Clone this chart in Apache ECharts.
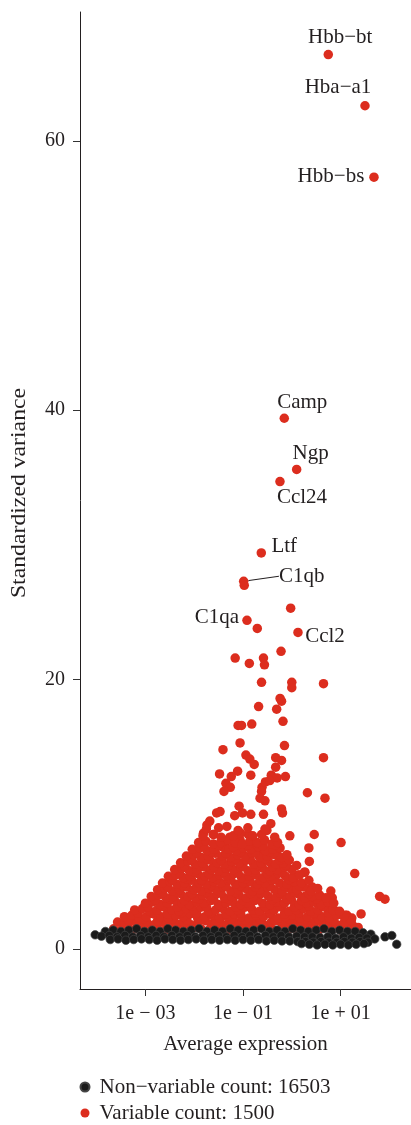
<!DOCTYPE html>
<html><head><meta charset="utf-8">
<script src="https://cdn.jsdelivr.net/npm/echarts@6/dist/echarts.min.js"></script>
<style>html,body{margin:0;padding:0;background:#fff}#chart{width:411px;height:1125px}</style>
</head><body><div id="chart"></div>
<script>
// ---- data (x stored as log10 of average expression, y = standardized variance) ----
const nonVariableName = 'Non\u2212variable count: 16503';
const variableName = 'Variable count: 1500';
const xTickValues = [1e-3, 1e-1, 1e1];
const xTickLabels = ['1e \u2212 03', '1e \u2212 01', '1e + 01'];
const yTickValues = [0, 20, 40, 60];

const labeledGenes = ['Hbb\u2212bt', 'Hba\u2212a1', 'Hbb\u2212bs', 'Camp', 'Ngp', 'Ccl24', 'Ltf', 'C1qb', 'C1qa', 'Ccl2'];
const labeledLog10Expr = [0.748, 1.5, 1.684, -0.154, 0.1, -0.242, -0.625, -0.986, -0.918, 0.127];
const labeledStdVar = [66.4, 62.6, 57.3, 39.4, 35.6, 34.7, 29.4, 27.3, 24.4, 23.5];

const variableGenes = [
[-0.707,23.8],[-0.023,25.3],[-0.974,27.0],
[-1.16,21.6],[-0.87,21.2],[-0.58,21.6],[-0.56,21.1],[-0.22,22.1],
[-0.62,19.8],[0.0,19.8],[0.0,19.4],[0.65,19.7],[-0.24,18.6],[-0.21,18.4],[-0.68,18.0],[-0.31,17.8],[-0.18,16.9],[-1.1,16.6],[-1.03,16.6],[-0.82,16.7],[-1.06,15.3],[-0.15,15.1],[-1.41,14.8],[0.65,14.2],[-0.94,14.4],[-0.86,14.1],[-0.77,13.7],[-0.33,14.2],[-0.21,14.0],[-0.33,13.5],[-1.11,13.2],[-0.84,12.9],[-1.48,13.0],[-1.24,12.8],[-0.42,12.9],[-0.3,12.7],[-0.13,12.8],[-1.35,12.3],[-1.26,12.0],[-1.39,11.7],[-0.61,12.0],[-0.54,12.4],[-0.45,12.5],[-0.62,11.7],[0.32,11.6],[0.68,11.2],[-0.65,11.2],[-0.55,11.0],[-1.08,10.6],[-0.21,10.4],[-0.19,10.1],[-1.54,10.1],[-1.47,10.2],[-1.17,9.9],[-1.01,10.1],[-0.84,10.0],[-0.58,10.0],[-0.43,9.3],[-1.68,9.5],[-1.74,9.2],[-1.33,9.1],[-0.51,8.8],[-0.04,8.4],[0.46,8.5],[1.01,7.9],[0.35,7.5],[0.36,6.5],[1.29,5.6],[1.8,3.9],[1.91,3.7],[1.42,2.6],[0.1,6.2],[0.27,5.7],[-0.1,6.1],[0.8,4.3],[0.83,3.8],[0.42,4.6],[0.61,3.8],[0.91,2.8],[1.26,1.7],[1.13,2.5],[1.23,2.3],
[-0.89,8.5],[-0.82,7.85],[-0.62,7.35],[-0.41,7.6],[-0.31,7.1],[0.13,5.5],[0.26,5.7],[0.41,4.5],[1.09,2.5],[1.36,1.6],[0.54,3.3],[0.68,3.2],[0.37,2.9],[0.27,3.9],[0.07,4.6],[-0.07,5.1],
[-1.81,8.6],[-1.61,8.5],[-1.27,8.3],[-1.06,8.1],[-1.37,7.7],[-1.01,7.5],
[-3.65,1.5],[-3.5,1.4],[-3.36,1.6],[-3.2,1.5],[-3.05,1.7],[-2.9,1.5],[-2.76,1.6],[-2.6,1.4],[-2.46,1.6],[-2.3,1.5],[-2.15,1.4],[-2.0,1.6],[-1.86,1.5],[-1.7,1.4],[-1.56,1.6],[-1.4,1.5],[-1.25,1.4],[-1.1,1.6],[-0.96,1.5],[-0.8,1.4],[-0.65,1.6],[-0.5,1.5],[-0.35,1.4],[-0.2,1.6],[-0.05,1.5],[0.1,1.4],[0.25,1.6],[0.4,1.5],[0.55,1.4],[0.7,1.6],[0.85,1.5],[1.0,1.4],[1.15,1.6],[1.3,1.5],
[-3.45,1.7],[-3.15,1.75],[-2.85,1.7],[-2.55,1.75],[-2.25,1.7],[-1.95,1.75],[-1.65,1.7],[-1.35,1.75],[-1.05,1.7],[-0.75,1.75],[-0.45,1.7],[-0.15,1.75],[0.15,1.7],[0.45,1.75],[0.75,1.7],[1.05,1.75],
[-3.57,2.0],[-3.42,1.9],[-3.27,2.1],[-3.12,1.9],[-2.97,2.0],[-2.82,1.8],[-2.67,2.0],[-2.52,2.1],[-2.37,1.9],[-2.22,2.0],[-2.07,1.8],[-1.92,2.0],[-1.77,2.1],[-1.62,1.9],[-1.47,2.0],[-1.32,1.8],[-1.17,2.0],[-1.02,2.1],[-0.87,1.9],[-0.72,2.0],[-0.57,1.8],[-0.42,2.0],[-0.27,2.1],[-0.12,1.9],[0.03,2.0],[0.18,1.8],[0.33,2.0],[0.48,2.1],[0.63,1.9],[0.78,2.0],[0.93,1.8],[1.08,2.0],[1.22,2.1],
[-3.35,2.15],[-3.05,2.2],[-2.75,2.1],[-2.45,2.2],[-2.15,2.15],[-1.85,2.2],[-1.55,2.1],[-1.25,2.2],[-0.95,2.15],[-0.65,2.2],[-0.35,2.1],[-0.05,2.2],[0.25,2.15],[0.55,2.2],[0.85,2.1],
[-3.43,2.4],[-3.28,2.5],[-3.13,2.3],[-2.98,2.4],[-2.83,2.6],[-2.68,2.4],[-2.53,2.3],[-2.38,2.5],[-2.23,2.4],[-2.08,2.6],[-1.93,2.3],[-1.78,2.4],[-1.63,2.5],[-1.48,2.3],[-1.33,2.4],[-1.18,2.6],[-1.03,2.4],[-0.88,2.3],[-0.73,2.5],[-0.58,2.4],[-0.43,2.6],[-0.28,2.3],[-0.13,2.4],[0.02,2.5],[0.17,2.3],[0.32,2.4],[0.47,2.6],[0.62,2.4],[0.77,2.3],[0.92,2.5],[1.07,2.4],
[-3.15,2.65],[-2.85,2.7],[-2.55,2.6],[-2.25,2.7],[-1.95,2.65],[-1.65,2.7],[-1.35,2.6],[-1.05,2.7],[-0.75,2.65],[-0.45,2.7],[-0.15,2.6],[0.15,2.7],[0.45,2.65],[0.75,2.7],
[-3.22,2.9],[-3.06,3.0],[-2.91,2.8],[-2.76,2.9],[-2.61,3.1],[-2.46,2.9],[-2.31,2.8],[-2.16,3.0],[-2.01,2.9],[-1.86,3.1],[-1.71,2.8],[-1.56,2.9],[-1.41,3.0],[-1.26,2.8],[-1.11,2.9],[-0.96,3.1],[-0.81,2.9],[-0.66,2.8],[-0.51,3.0],[-0.36,2.9],[-0.21,3.1],[-0.06,2.8],[0.09,2.9],[0.24,3.0],[0.39,2.8],[0.54,2.9],[0.69,3.1],[0.84,2.9],[0.98,2.8],
[-2.95,3.15],[-2.65,3.2],[-2.35,3.1],[-2.05,3.2],[-1.75,3.15],[-1.45,3.2],[-1.15,3.1],[-0.85,3.2],[-0.55,3.15],[-0.25,3.2],[0.05,3.1],[0.35,3.2],[0.65,3.15],
[-3.0,3.4],[-2.85,3.5],[-2.7,3.3],[-2.55,3.4],[-2.4,3.6],[-2.25,3.4],[-2.1,3.3],[-1.95,3.5],[-1.8,3.4],[-1.65,3.6],[-1.5,3.3],[-1.35,3.4],[-1.2,3.5],[-1.05,3.3],[-0.9,3.4],[-0.75,3.6],[-0.6,3.4],[-0.45,3.3],[-0.3,3.5],[-0.15,3.4],[0.0,3.6],[0.15,3.3],[0.3,3.4],[0.45,3.5],[0.6,3.3],[0.74,3.5],[0.86,3.4],
[-2.8,3.65],[-2.5,3.7],[-2.2,3.6],[-1.9,3.7],[-1.6,3.65],[-1.3,3.7],[-1.0,3.6],[-0.7,3.7],[-0.4,3.65],[-0.1,3.7],[0.2,3.6],[0.5,3.7],
[-2.88,3.9],[-2.73,4.0],[-2.58,3.8],[-2.43,3.9],[-2.28,4.1],[-2.13,3.9],[-1.98,3.8],[-1.83,4.0],[-1.68,3.9],[-1.53,4.1],[-1.38,3.8],[-1.23,3.9],[-1.08,4.0],[-0.93,3.8],[-0.78,3.9],[-0.63,4.1],[-0.48,3.9],[-0.33,3.8],[-0.18,4.0],[-0.03,3.9],[0.12,4.1],[0.27,3.8],[0.42,3.9],[0.57,4.0],[0.7,3.8],
[-2.65,4.15],[-2.35,4.2],[-2.05,4.1],[-1.75,4.2],[-1.45,4.15],[-1.15,4.2],[-0.85,4.1],[-0.55,4.2],[-0.25,4.15],[0.05,4.2],[0.35,4.1],
[-2.75,4.4],[-2.6,4.5],[-2.45,4.3],[-2.3,4.4],[-2.15,4.6],[-2.0,4.4],[-1.85,4.3],[-1.7,4.5],[-1.55,4.4],[-1.4,4.6],[-1.25,4.3],[-1.1,4.4],[-0.95,4.5],[-0.8,4.3],[-0.65,4.4],[-0.5,4.6],[-0.35,4.4],[-0.2,4.3],[-0.05,4.5],[0.1,4.4],[0.25,4.6],[0.4,4.3],[0.53,4.5],
[-2.55,4.65],[-2.25,4.7],[-1.95,4.6],[-1.65,4.7],[-1.35,4.65],[-1.05,4.7],[-0.75,4.6],[-0.45,4.7],[-0.15,4.65],[0.15,4.7],
[-2.65,4.9],[-2.5,5.0],[-2.35,4.8],[-2.2,4.9],[-2.05,5.1],[-1.9,4.9],[-1.75,4.8],[-1.6,5.0],[-1.45,4.9],[-1.3,5.1],[-1.15,4.8],[-1.0,4.9],[-0.85,5.0],[-0.7,4.8],[-0.55,4.9],[-0.4,5.1],[-0.25,4.9],[-0.1,4.8],[0.05,5.0],[0.2,4.9],[0.35,5.1],
[-2.45,5.15],[-2.15,5.2],[-1.85,5.1],[-1.55,5.2],[-1.25,5.15],[-0.95,5.2],[-0.65,5.1],[-0.35,5.2],[-0.05,5.15],
[-2.53,5.4],[-2.38,5.5],[-2.23,5.3],[-2.08,5.4],[-1.93,5.6],[-1.78,5.4],[-1.63,5.3],[-1.48,5.5],[-1.33,5.4],[-1.18,5.6],[-1.03,5.3],[-0.88,5.4],[-0.73,5.5],[-0.58,5.3],[-0.43,5.4],[-0.28,5.6],[-0.13,5.4],[0.02,5.3],[0.16,5.5],
[-2.3,5.65],[-2.0,5.7],[-1.7,5.6],[-1.4,5.7],[-1.1,5.65],[-0.8,5.7],[-0.5,5.6],[-0.2,5.7],
[-2.4,5.9],[-2.25,6.0],[-2.1,5.8],[-1.95,5.9],[-1.8,6.1],[-1.65,5.9],[-1.5,5.8],[-1.35,6.0],[-1.2,5.9],[-1.05,6.1],[-0.9,5.8],[-0.75,5.9],[-0.6,6.0],[-0.45,5.8],[-0.3,5.9],[-0.15,6.1],[0.0,5.9],
[-2.2,6.15],[-1.9,6.2],[-1.6,6.1],[-1.3,6.2],[-1.0,6.15],[-0.7,6.2],[-0.4,6.1],[-0.12,6.2],
[-2.28,6.4],[-2.13,6.5],[-1.98,6.3],[-1.83,6.4],[-1.68,6.6],[-1.53,6.4],[-1.38,6.3],[-1.23,6.5],[-1.08,6.4],[-0.93,6.6],[-0.78,6.3],[-0.63,6.4],[-0.48,6.5],[-0.33,6.3],[-0.18,6.4],[-0.05,6.6],
[-2.05,6.65],[-1.75,6.7],[-1.45,6.6],[-1.15,6.7],[-0.85,6.65],[-0.55,6.7],[-0.25,6.6],
[-2.16,6.9],[-2.01,7.0],[-1.86,6.8],[-1.71,6.9],[-1.56,7.1],[-1.41,6.9],[-1.26,6.8],[-1.11,7.0],[-0.96,6.9],[-0.81,7.1],[-0.66,6.8],[-0.51,6.9],[-0.36,7.0],[-0.21,6.8],[-0.1,7.0],
[-1.95,7.15],[-1.65,7.2],[-1.35,7.1],[-1.05,7.2],[-0.75,7.15],[-0.45,7.2],
[-2.04,7.4],[-1.89,7.5],[-1.74,7.3],[-1.59,7.4],[-1.44,7.6],[-1.29,7.4],[-1.14,7.3],[-0.99,7.5],[-0.84,7.4],[-0.69,7.6],[-0.54,7.3],[-0.39,7.4],[-0.24,7.5],
[-1.8,7.65],[-1.5,7.7],[-1.2,7.6],[-0.9,7.7],[-0.6,7.65],[-0.35,7.7],
[-1.91,7.9],[-1.76,8.0],[-1.61,7.8],[-1.46,7.9],[-1.31,8.1],[-1.16,7.9],[-1.01,7.8],[-0.86,8.0],[-0.71,7.9],[-0.56,8.1],[-0.41,7.8],[-0.29,7.9],
[-1.82,8.4],[-1.6,8.5],[-1.45,8.3],[-1.2,8.4],[-1.05,8.6],[-0.8,8.4],[-0.62,8.5],[-0.35,8.3],
[-1.75,8.9],[-1.5,9.0],[-1.1,8.8],[-0.9,9.0],[-0.55,8.9]
];

const nonVariableGenes = [
[-4.03,1.05],
[-3.82,1.3],[-3.66,1.4],[-3.5,1.3],[-3.34,1.4],[-3.18,1.5],[-3.02,1.3],[-2.86,1.4],[-2.7,1.3],[-2.54,1.5],[-2.38,1.4],[-2.22,1.3],[-2.06,1.4],[-1.9,1.5],[-1.74,1.3],[-1.58,1.4],[-1.42,1.3],[-1.26,1.5],[-1.1,1.4],[-0.94,1.3],[-0.78,1.4],[-0.62,1.5],[-0.46,1.3],[-0.3,1.4],[-0.14,1.3],[0.02,1.5],[0.18,1.4],[0.34,1.3],[0.5,1.4],[0.66,1.5],[0.82,1.3],[0.98,1.4],[1.14,1.3],[1.3,1.3],[1.46,1.2],[1.62,1.1],
[-3.9,0.95],[-3.74,1.0],[-3.58,0.9],[-3.42,1.0],[-3.26,0.9],[-3.1,1.0],[-2.94,0.9],[-2.78,1.0],[-2.62,0.9],[-2.46,1.0],[-2.3,0.9],[-2.14,1.0],[-1.98,0.9],[-1.82,1.0],[-1.66,0.9],[-1.5,1.0],[-1.34,0.9],[-1.18,1.0],[-1.02,0.9],[-0.86,1.0],[-0.7,0.9],[-0.54,1.0],[-0.38,0.9],[-0.22,1.0],[-0.06,0.9],[0.1,0.95],[0.26,0.9],[0.42,0.9],[0.58,0.85],[0.74,0.9],[0.9,0.8],[1.06,0.9],[1.22,0.8],[1.38,0.85],[1.54,0.8],[1.7,0.75],
[1.91,0.9],[2.05,1.0],[2.15,0.35],
[-3.72,0.7],[-3.56,0.75],[-3.4,0.65],[-3.24,0.7],[-3.08,0.75],[-2.92,0.7],[-2.76,0.65],[-2.6,0.75],[-2.44,0.7],[-2.28,0.65],[-2.12,0.7],[-1.96,0.75],[-1.8,0.65],[-1.64,0.7],[-1.48,0.65],[-1.32,0.7],[-1.16,0.65],[-1.0,0.7],[-0.84,0.65],[-0.68,0.7],[-0.52,0.6],[-0.36,0.65],[-0.2,0.6],[-0.04,0.6],[0.12,0.55],[0.28,0.55],[0.44,0.5],[0.6,0.55],[0.76,0.5],[0.92,0.5],[1.08,0.55],[1.24,0.5],[1.4,0.55],[1.56,0.5],
[0.2,0.4],[0.36,0.35],[0.52,0.3],[0.68,0.35],[0.84,0.3],[1.0,0.35],[1.16,0.3],[1.32,0.35],[1.48,0.4]
];

// ---- label placement (pixel offsets from the point) ----
const labelOffsets = {
  'Hbb\u2212bt': [12, -17], 'Hba\u2212a1': [-27, -18], 'Hbb\u2212bs': [-43, -1],
  'Camp': [18, -16], 'Ngp': [14, -16], 'Ccl24': [22, 16], 'Ltf': [23, -6],
  'C1qb': [58, -5], 'C1qa': [-30, -3], 'Ccl2': [27, 4]
};

const FONT = "'Liberation Serif', 'DejaVu Serif', serif";
const INK = '#231f20';
const RED = '#dc2d1e';

const redData = [];
const redNames = [];
labeledGenes.forEach((g, i) => {
  redNames.push(g);
  redData.push({
    value: [Math.pow(10, labeledLog10Expr[i]), labeledStdVar[i]],
    name: g,
    label: { show: true, position: 'inside', formatter: g, color: INK, fontSize: 21, fontFamily: FONT },
    labelLine: { show: g === 'C1qb', lineStyle: { color: INK, width: 1 } }
  });
});
variableGenes.forEach(p => { redNames.push(''); redData.push([Math.pow(10, p[0]), p[1]]); });
const blackData = nonVariableGenes.map(p => [Math.pow(10, p[0]), p[1]]);

const chart = echarts.init(document.getElementById('chart'), null, { renderer: 'canvas' });
chart.setOption({
  animation: false,
  backgroundColor: '#fff',
  grid: { left: 80, right: 0, top: 12, bottom: 136, containLabel: false },
  xAxis: {
    type: 'log', logBase: 10,
    min: Math.pow(10, -4.34), max: Math.pow(10, 2.443),
    name: 'Average expression', nameLocation: 'middle', nameGap: 45,
    nameTextStyle: { fontFamily: FONT, fontSize: 21, color: INK },
    axisLine: { show: true, onZero: false, lineStyle: { color: INK, width: 1 } },
    axisTick: { show: true, length: 7, customValues: xTickValues, lineStyle: { color: '#333' } },
    axisLabel: { customValues: xTickValues, margin: 15, fontFamily: FONT, fontSize: 20, color: INK,
      formatter: v => { const i = xTickValues.findIndex(t => Math.abs(Math.log10(t) - Math.log10(v)) < 1e-6); return i >= 0 ? xTickLabels[i] : ''; } },
    splitLine: { show: false }, minorTick: { show: false }
  },
  yAxis: {
    type: 'value', min: -2.97, max: 69.56,
    axisLine: { show: true, onZero: false, lineStyle: { color: INK, width: 1 } },
    axisTick: { show: true, length: 7, customValues: yTickValues, lineStyle: { color: '#333' } },
    axisLabel: { customValues: yTickValues, margin: 15, fontFamily: FONT, fontSize: 20, color: INK },
    splitLine: { show: false }
  },
  legend: {
    orient: 'vertical', left: 79.5, top: 1076.5, padding: 0, itemWidth: 19, itemHeight: 9, itemGap: 5,
    icon: 'circle', data: [nonVariableName, variableName],
    textStyle: { fontFamily: FONT, fontSize: 21, color: INK, lineHeight: 21 }
  },
  graphic: [{
    type: 'text', x: 19, y: 493, rotation: Math.PI / 2, scaleX: 1.13,
    style: { text: 'Standardized variance', fontFamily: FONT, fontSize: 21, fill: INK, align: 'center', verticalAlign: 'middle' }
  }],
  series: [
    {
      name: variableName, type: 'scatter', symbolSize: 9.5, z: 2,
      itemStyle: { color: RED, opacity: 1 },
      emphasis: { disabled: true },
      labelLayout: params => { const o = labelOffsets[redNames[params.dataIndex]]; return o ? { dx: o[0], dy: o[1] } : {}; },
      data: redData
    },
    {
      name: nonVariableName, type: 'scatter', symbolSize: 8.5, z: 3,
      itemStyle: { color: '#1b1b1b', borderColor: '#444', borderWidth: 0.7, opacity: 1 },
      emphasis: { disabled: true },
      data: blackData
    }
  ]
});
</script></body></html>
